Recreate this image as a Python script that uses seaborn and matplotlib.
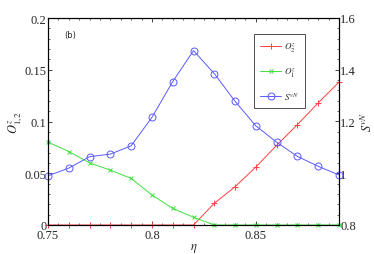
import numpy as np
import pandas as pd
import matplotlib
matplotlib.use("Agg")
import matplotlib.pyplot as plt
from matplotlib.ticker import MultipleLocator, FuncFormatter
import seaborn as sns

# eta values and the three series
eta = [0.75, 0.76, 0.77, 0.78, 0.79, 0.80, 0.81, 0.82,
       0.83, 0.84, 0.85, 0.86, 0.87, 0.88, 0.89]
o2z = [0, 0, 0, 0, 0, 0, 0, 0,
       0.021, 0.037, 0.056, 0.077, 0.097, 0.118, 0.138]
o1z = [0.080, 0.071, 0.060, 0.053, 0.045, 0.029, 0.016, 0.0075,
       0, 0, 0, 0, 0, 0, 0]
svn = [0.99, 1.02, 1.064, 1.074, 1.106, 1.216, 1.354, 1.474,
       1.385, 1.278, 1.183, 1.12, 1.065, 1.027, 0.993]

df = pd.DataFrame({"eta": eta, "O2": o2z, "O1": o1z, "S": svn})

sns.set_style("ticks")
plt.rcParams["font.family"] = ["Liberation Serif", "DejaVu Serif"]
plt.rcParams["mathtext.fontset"] = "stix"
plt.rcParams["font.size"] = 8

fig = plt.figure(figsize=(3.74, 2.55), dpi=100)
ax = fig.add_axes([48 / 374, 1 - 226 / 255, 291 / 374, 207 / 255])
ax2 = ax.twinx()

red, green, blue = "#ff4040", "#40e040", "#5a5aff"
lw = 0.7

sns.lineplot(data=df, x="eta", y="O2", ax=ax, color=red, lw=lw,
             marker="+", markersize=5, markeredgewidth=0.7,
             markeredgecolor=red, clip_on=False, label=r"$O^z_2$", legend=False)
sns.lineplot(data=df, x="eta", y="O1", ax=ax, color=green, lw=lw,
             marker="x", markersize=3.5, markeredgewidth=0.7,
             markeredgecolor=green, clip_on=False, label=r"$O^z_1$", legend=False)
sns.lineplot(data=df, x="eta", y="S", ax=ax2, color=blue, lw=lw,
             marker="o", markersize=5, markerfacecolor="none",
             markeredgewidth=0.7, markeredgecolor=blue, clip_on=False,
             label=r"$S^{vN}$", legend=False)

ax.set_xlim(0.75, 0.89)
ax.set_ylim(0, 0.2)
ax2.set_ylim(0.8, 1.6)

fmt = FuncFormatter(lambda v, p: f"{v:.2f}".rstrip("0").rstrip("."))
ax.xaxis.set_major_locator(MultipleLocator(0.05))
ax.xaxis.set_minor_locator(MultipleLocator(0.005))
ax.yaxis.set_major_locator(MultipleLocator(0.05))
ax.yaxis.set_minor_locator(MultipleLocator(0.01))
ax2.yaxis.set_major_locator(MultipleLocator(0.2))
ax2.yaxis.set_minor_locator(MultipleLocator(0.04))
ax.xaxis.set_major_formatter(fmt)
ax.yaxis.set_major_formatter(fmt)
ax2.yaxis.set_major_formatter(FuncFormatter(lambda v, p: f"{v:.1f}".rstrip("0").rstrip(".")))

ax.tick_params(axis="x", which="both", direction="in", top=True, pad=3)
ax.tick_params(axis="y", which="both", direction="in", right=False, pad=1)
ax2.tick_params(axis="y", which="both", direction="in", pad=1)
for a in (ax, ax2):
    a.tick_params(which="major", length=3, width=0.6, labelsize=9)
    a.tick_params(which="minor", length=1.5, width=0.5)
    for s in a.spines.values():
        s.set_linewidth(0.8)
        s.set_color("black")

ax.set_xlabel(r"$\eta$", fontsize=9, labelpad=0)
ax.set_ylabel(r"$O^z_{1,2}$", fontsize=9, labelpad=0)
ax2.set_ylabel(r"$S^{vN}$", fontsize=9, labelpad=3)

ax.text(0.055, 0.94, "(b)", transform=ax.transAxes, fontsize=6,
        family="DejaVu Sans", va="top")

h1, l1 = ax.get_legend_handles_labels()
h2, l2 = ax2.get_legend_handles_labels()
leg = ax2.legend(h1 + h2, l1 + l2, loc="upper left",
                 bbox_to_anchor=((254 - 48) / 291, (226 - 35) / 207),
                 fontsize=6.5, frameon=True, fancybox=False,
                 edgecolor="black", handlelength=2.3, borderpad=0.7,
                 labelspacing=1.3, handletextpad=0.3, borderaxespad=0)
leg.get_frame().set_linewidth(0.6)

fig.savefig("out.png", dpi=100)
